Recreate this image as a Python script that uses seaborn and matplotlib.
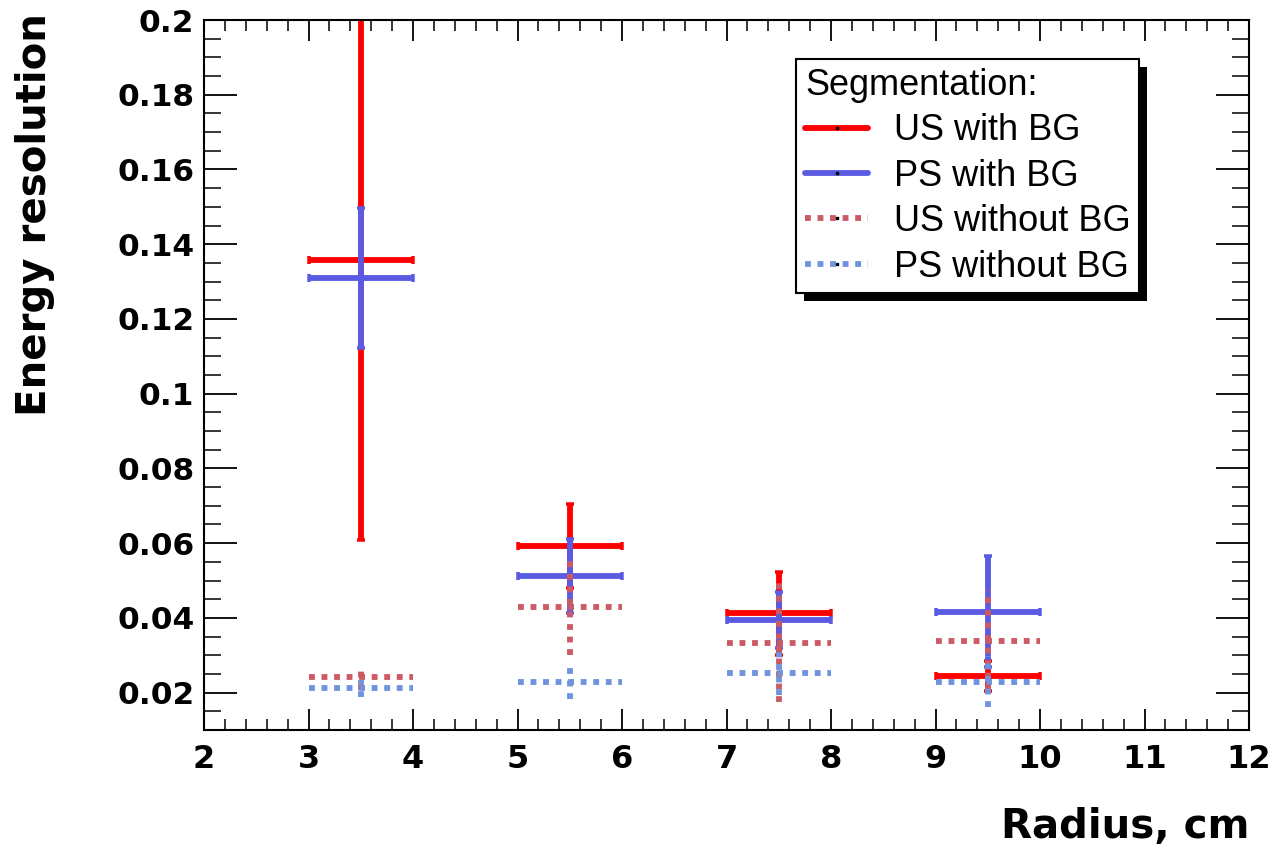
import matplotlib
matplotlib.use("Agg")
import matplotlib.pyplot as plt
from matplotlib.lines import Line2D
from matplotlib.patches import Rectangle
from matplotlib.ticker import MultipleLocator, FuncFormatter
import seaborn as sns
import pandas as pd

# Bin centres (radius, cm) and half bin widths
radius = [3.5, 5.5, 7.5, 9.5]
half_width = [0.5, 0.5, 0.5, 0.5]

# Energy resolution per configuration, with symmetric errors
us_bg = [0.1358, 0.0593, 0.0412, 0.0245]
us_bg_err = [0.0750, 0.0112, 0.0112, 0.0040]

ps_bg = [0.1310, 0.0512, 0.0394, 0.0417]
ps_bg_err = [0.0188, 0.0100, 0.0075, 0.0149]

us_nobg = [0.0241, 0.0430, 0.0334, 0.0339]
us_nobg_err = [0.0033, 0.0128, 0.0160, 0.0135]

ps_nobg = [0.0212, 0.0229, 0.0252, 0.0229]
ps_nobg_err = [0.0023, 0.0047, 0.0058, 0.0068]

labels = ["US with BG", "PS with BG", "US without BG", "PS without BG"]
colors = ["#ff0000", "#5a5ae2", "#cc5a64", "#6f93dc"]
dotted = (0, (1, 1.15))
styles = ["-", "-", dotted, dotted]

sns.set_theme(style="ticks")
plt.rcParams["font.family"] = ["DejaVu Sans"]
plt.rcParams["text.color"] = "black"
plt.rcParams["axes.labelcolor"] = "black"

frames = []
for name, y, e in zip(labels,
                      [us_bg, ps_bg, us_nobg, ps_nobg],
                      [us_bg_err, ps_bg_err, us_nobg_err, ps_nobg_err]):
    frames.append(pd.DataFrame({"series": name, "radius": radius,
                                "dr": half_width, "res": y, "err": e}))
data = pd.concat(frames, ignore_index=True)

fig = plt.figure(figsize=(12.74, 8.52), dpi=100, facecolor="white")
ax = fig.add_axes([204 / 1274, 1 - 730 / 852, 1045 / 1274, 710 / 852])
ax.set_facecolor("white")

lw = 4.2
for name, col, ls in zip(labels, colors, styles):
    d = data[data["series"] == name]
    cont = ax.errorbar(d["radius"], d["res"], xerr=d["dr"], yerr=d["err"],
                       fmt="none", ecolor=col, elinewidth=lw,
                       capsize=0 if ls != "-" else 2.6, capthick=lw * 0.6)
    for coll in cont.lines[2]:
        coll.set_linestyle(ls)
        coll.set_capstyle("butt")

ax.set_xlim(2, 12)
ax.set_ylim(0.01, 0.2)

ax.xaxis.set_major_locator(MultipleLocator(1))
ax.xaxis.set_minor_locator(MultipleLocator(0.2))
ax.yaxis.set_major_locator(MultipleLocator(0.02))
ax.yaxis.set_minor_locator(MultipleLocator(0.005))


def yfmt(v, pos):
    return f"{v:.2f}".rstrip("0")


ax.yaxis.set_major_formatter(FuncFormatter(yfmt))

for s in ax.spines.values():
    s.set_visible(True)
    s.set_color("black")
    s.set_linewidth(1.5)

ax.tick_params(axis="x", which="major", direction="in", length=15, width=1.3,
               top=True, bottom=True, pad=10, labelsize=23, colors="black")
ax.tick_params(axis="x", which="minor", direction="in", length=8, width=1.3,
               top=True, bottom=True)
ax.tick_params(axis="y", which="major", direction="in", length=24, width=1.3,
               left=True, right=True, pad=7, labelsize=22.5, colors="black")
ax.tick_params(axis="y", which="minor", direction="in", length=12, width=1.3,
               left=True, right=True)
for t in ax.get_xticklabels() + ax.get_yticklabels():
    t.set_fontweight("bold")

ax.set_xlabel("Radius, cm", fontsize=29, fontweight="bold", loc="right",
              color="black")
ax.xaxis.set_label_coords(1.0, -0.108)
ax.set_ylabel("Energy resolution", fontsize=29, fontweight="bold", loc="top",
              color="black")
ax.yaxis.set_label_coords(-0.143, 1.01)
ax.grid(False)

handles = [Line2D([0], [0], color=c, lw=lw, linestyle=ls,
                  dash_capstyle="butt", marker="s", markersize=1.6,
                  markerfacecolor="black", markeredgecolor="black")
           for c, ls in zip(colors, styles)]
leg = ax.legend(handles, labels, title="Segmentation:", loc="upper right",
                bbox_to_anchor=(0.8947, 0.945), frameon=True, fancybox=False,
                edgecolor="black", framealpha=1, numpoints=1,
                prop={"family": "Liberation Sans", "size": 26},
                title_fontproperties={"family": "Liberation Sans", "size": 26},
                alignment="left", handlelength=1.75, handletextpad=0.7,
                labelspacing=0.29, borderpad=0.24, borderaxespad=0)
leg.get_frame().set_linewidth(1.5)
for t in leg.get_texts():
    t.set_color("black")
leg.get_title().set_color("black")
leg.set_zorder(10)

# Solid drop shadow behind the legend box
fig.canvas.draw()
bb = leg.get_window_extent().transformed(fig.transFigure.inverted())
off_x, off_y = 8 / 1274, 8 / 852
shadow = Rectangle((bb.x0 + off_x, bb.y0 - off_y), bb.width, bb.height,
                   transform=fig.transFigure, facecolor="black",
                   edgecolor="none", zorder=9)
ax.add_artist(shadow)
shadow.set_clip_on(False)

fig.savefig("out.png", dpi=100, facecolor="white")
